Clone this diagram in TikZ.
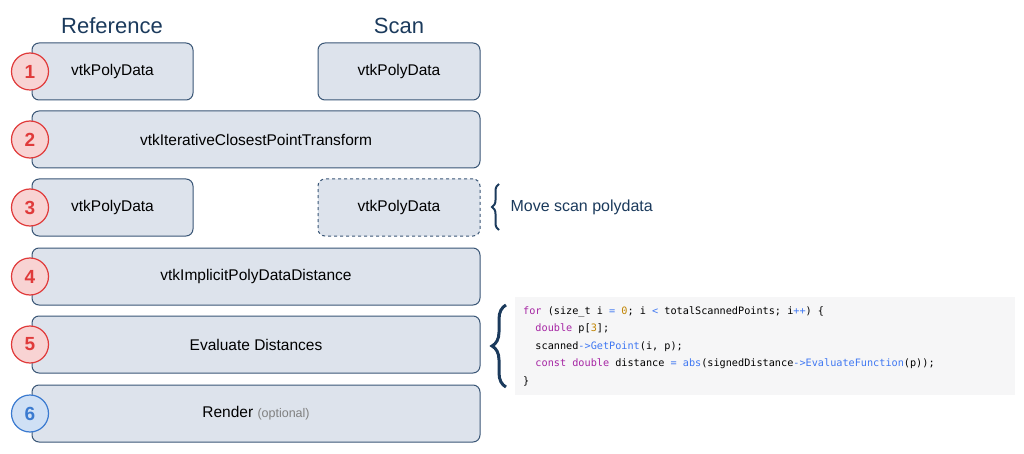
\documentclass[tikz,border=0pt]{standalone}
\usepackage{fontspec}
\setmainfont{Liberation Sans}
\setmonofont{DejaVu Sans Mono}
\usetikzlibrary{decorations.pathreplacing}
\definecolor{boxfill}{HTML}{DDE3EC}
\definecolor{boxline}{HTML}{3A5676}
\definecolor{navy}{HTML}{1B3A5C}
\definecolor{rfill}{HTML}{F8D3D3}
\definecolor{rline}{HTML}{E03A3A}
\definecolor{bfill}{HTML}{CFE0F5}
\definecolor{bline}{HTML}{3A7AD0}
\definecolor{kw}{HTML}{A626A4}
\definecolor{fn}{HTML}{4078F2}
\definecolor{num}{HTML}{C18401}
\definecolor{codebg}{HTML}{F6F6F7}
\tikzset{
 box/.style={draw=boxline,fill=boxfill,rounded corners=7pt,line width=1pt,font=\fontsize{15.5}{18}\selectfont},
 rnum/.style={circle,draw=rline,fill=rfill,line width=1.2pt,minimum size=37pt,inner sep=0pt,text=rline,font=\bfseries\fontsize{19}{21}\selectfont},
 bnum/.style={rnum,draw=bline,fill=bfill,text=bline},
 hdr/.style={text=navy,font=\fontsize{22}{24}\selectfont},
 brc/.style={decorate,draw=navy,line width=2pt},
}
\begin{document}
\begin{tikzpicture}[x=1pt,y=-1pt]
\useasboundingbox (0,0) rectangle (1024,454);
\node[hdr] (h1) at (112,26) {Reference};
\node[hdr] (h2) at (399,26) {Scan};
\newcommand\bx[5]{\node[box,minimum width={#3-#2},minimum height=57pt] (#1) at ({(#2+#3)/2},#4) {#5};}
\bx{b1l}{32}{193}{71.5}{vtkPolyData}
\bx{b1r}{318}{480}{71.5}{vtkPolyData}
\bx{b2}{32}{480}{139.5}{vtkIterativeClosestPointTransform}
\bx{b3l}{32}{193}{207.5}{vtkPolyData}
\node[box,dashed,minimum width=162pt,minimum height=57pt] (b3r) at (399,207.5) {vtkPolyData};
\bx{b4}{32}{480}{276.5}{vtkImplicitPolyDataDistance}
\bx{b5}{32}{480}{344.5}{Evaluate Distances}
\bx{b6}{32}{480}{413.5}{Render {\color{gray}\fontsize{12.5}{14}\selectfont(optional)}}
\node[rnum] (c1) at (30,71.5) {1};
\node[rnum] (c2) at (30,139.5) {2};
\node[rnum] (c3) at (30,207.5) {3};
\node[rnum] (c4) at (30,276.5) {4};
\node[rnum] (c5) at (30,344.5) {5};
\node[bnum] (c6) at (30,413.5) {6};
\coordinate (t3a) at (499,230); \coordinate (t3b) at (499,184);
\draw[brc,line width=2pt,decoration={brace,amplitude=7pt}] (t3a) -- (t3b);
\node[anchor=west,text=navy,font=\fontsize{16}{18}\selectfont] (m) at (507,207) {Move scan polydata};
\node[fill=codebg,anchor=north west,minimum width=500pt,minimum height=98pt,inner sep=0pt] (code) at (515,297) {};
\node[anchor=north west,align=left,inner sep=0pt,font=\ttfamily\fontsize{10.2}{17.5}\selectfont] (ct) at (523,306) {%
{\color{kw}for} (size\_t i {\color{fn}=} {\color{num}0}; i {\color{fn}<} totalScannedPoints; i{\color{fn}++}) \{\\
\ \ {\color{kw}double} p[{\color{num}3}];\\
\ \ scanned{\color{fn}->GetPoint}(i, p);\\
\ \ {\color{kw}const} {\color{kw}double} distance {\color{fn}=} {\color{fn}abs}(signedDistance{\color{fn}->EvaluateFunction}(p));\\
\}};
\coordinate (t5a) at (506,387); \coordinate (t5b) at (506,305);
\draw[brc,line width=3pt,decoration={brace,amplitude=14pt}] (t5a) -- (t5b);
\end{tikzpicture}
\end{document}
